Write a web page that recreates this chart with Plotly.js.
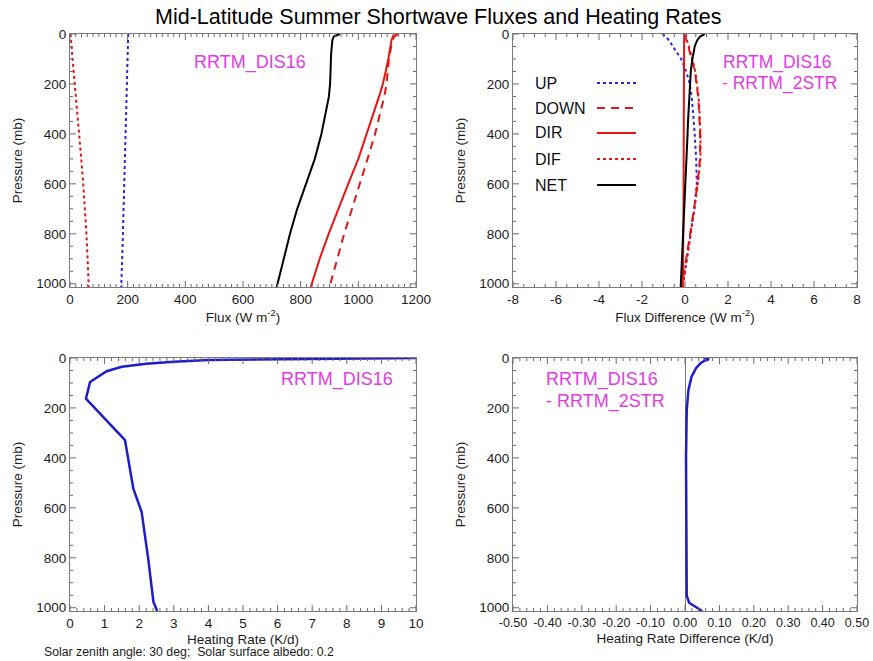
<!DOCTYPE html>
<html>
<head>
<meta charset="utf-8">
<script src="https://cdn.plot.ly/plotly-3.0.1.min.js"></script>
<style>
  html, body { margin: 0; padding: 0; background: #fff; }
  #chart { width: 873px; height: 661px; }
</style>
</head>
<body>
<div id="chart"></div>
<script>
// ---------- data ----------
const pressureFlux = [0, 10, 25, 50, 75, 100, 150, 200, 250, 300, 350, 400, 500, 600, 700, 800, 900, 1000, 1013];

// Panel 1: RRTM_DIS16 fluxes (W m-2)
const fluxUp   = [202, 201.5, 201, 200.5, 200, 199.5, 198.5, 197.5, 196.5, 195.5, 194.5, 193.5, 191, 188.5, 186, 183.5, 181, 178, 177.5];
const fluxDown = [1138, 1125, 1118, 1115, 1110, 1106, 1102, 1098, 1090, 1080, 1070, 1058, 1032, 1006, 978, 951, 926, 903, 900];
const fluxDir  = [1135, 1120, 1115, 1112, 1108, 1104, 1095, 1085, 1072, 1058, 1044, 1030, 1000, 965, 930, 897, 866, 838, 835];
const fluxDif  = [2, 3, 4, 6, 7, 9, 13, 17, 21, 25, 28, 32, 39, 46, 52, 57, 61, 64, 65];
const fluxNet  = [936, 915, 910, 907, 906, 905, 904, 902, 898, 890, 882, 872, 849, 818, 788, 763, 741, 720, 717];

// Panel 2: RRTM_DIS16 - RRTM_2STR flux differences (W m-2)
const diffUp   = [-1.05, -0.9, -0.75, -0.55, -0.35, -0.18, 0.06, 0.22, 0.31, 0.37, 0.41, 0.45, 0.52, 0.55, 0.43, 0.26, 0.09, -0.1, -0.13];
const diffDown = [0.0, 0.02, 0.06, 0.15, 0.24, 0.31, 0.46, 0.55, 0.61, 0.65, 0.68, 0.7, 0.7, 0.58, 0.42, 0.24, 0.04, -0.12, -0.15];
const diffDir  = [-0.04, -0.04, -0.04, -0.04, -0.05, -0.05, -0.05, -0.05, -0.05, -0.05, -0.06, -0.06, -0.06, -0.07, -0.07, -0.08, -0.08, -0.09, -0.1];
const diffDif  = [0.03, 0.05, 0.09, 0.18, 0.27, 0.34, 0.48, 0.57, 0.63, 0.67, 0.7, 0.72, 0.72, 0.6, 0.44, 0.27, 0.08, -0.07, -0.1];
const diffNet  = [0.92, 0.7, 0.57, 0.45, 0.4, 0.34, 0.27, 0.23, 0.2, 0.17, 0.14, 0.12, 0.07, 0.03, -0.02, -0.07, -0.11, -0.17, -0.2];

// Panel 3: heating rate (K/d)
const pressureHR = [0, 4, 8, 15, 23, 35, 53, 96, 163, 329, 523, 616, 803, 976, 1013];
const heatingRate = [10, 6, 4, 3, 2.2, 1.5, 1.06, 0.58, 0.46, 1.59, 1.83, 2.07, 2.26, 2.41, 2.52];

// Panel 4: heating rate difference (K/d)
const pressureHRD = [0, 4, 12, 21, 41, 75, 128, 208, 400, 600, 800, 900, 950, 980, 995, 1013];
const heatingRateDiff = [0.053, 0.07, 0.055, 0.045, 0.032, 0.019, 0.01, 0.005, 0.003, 0.003, 0.003, 0.003, 0.005, 0.012, 0.03, 0.05];

// tick labels
const pressureTicks = [0, 200, 400, 600, 800, 1000];
const fluxTicks = [0, 200, 400, 600, 800, 1000, 1200];
const fluxDiffTickVals = [-8, -6, -4, -2, 0, 2, 4, 6, 8];
const fluxDiffTickText = ['-8', '-6', '-4', '-2', '0', '2', '4', '6', '8'];
const hrTicks = [0, 1, 2, 3, 4, 5, 6, 7, 8, 9, 10];
const hrDiffTickVals = [-0.5, -0.4, -0.3, -0.2, -0.1, 0, 0.1, 0.2, 0.3, 0.4, 0.5];
const hrDiffTickText = ['-0.50', '-0.40', '-0.30', '-0.20', '-0.10', '0.00', '0.10', '0.20', '0.30', '0.40', '0.50'];

// legend entries (top-right panel)
const legendNames = ['UP', 'DOWN', 'DIR', 'DIF', 'NET'];

// ---------- styles ----------
const FONT = 'Liberation Sans, Arial, Helvetica, sans-serif';
const BLUE = 'rgb(40,40,225)';
const RED = 'rgb(230,20,20)';
const BLACK = '#000';
const MAGENTA = '#e23be2';
const FRAME = '#7a7a7a';
const TICK = '#6a6a6a';
const TXT = '#1c1c1c';
const HRBLUE = 'rgb(30,30,200)';
const styles = {
  UP:   {color: BLUE,  dash: 'dot',   width: 2},
  DOWN: {color: RED,   dash: '8px,6px', width: 2},
  DIR:  {color: RED,   dash: 'solid', width: 2},
  DIF:  {color: RED,   dash: 'dot',   width: 2},
  NET:  {color: BLACK, dash: 'solid', width: 2}
};

function tr(x, y, name, xa, ya, line) {
  return {x: x, y: y, name: name, type: 'scatter', mode: 'lines',
          xaxis: xa, yaxis: ya, line: line, showlegend: false, hoverinfo: 'skip'};
}

const traces = [
  tr(fluxUp,   pressureFlux, 'UP',   'x', 'y', styles.UP),
  tr(fluxDown, pressureFlux, 'DOWN', 'x', 'y', styles.DOWN),
  tr(fluxDir,  pressureFlux, 'DIR',  'x', 'y', styles.DIR),
  tr(fluxDif,  pressureFlux, 'DIF',  'x', 'y', styles.DIF),
  tr(fluxNet,  pressureFlux, 'NET',  'x', 'y', styles.NET),
  tr(diffUp,   pressureFlux, 'UP',   'x2', 'y2', styles.UP),
  tr(diffDown, pressureFlux, 'DOWN', 'x2', 'y2', styles.DOWN),
  tr(diffDir,  pressureFlux, 'DIR',  'x2', 'y2', styles.DIR),
  tr(diffDif,  pressureFlux, 'DIF',  'x2', 'y2', styles.DIF),
  tr(diffNet,  pressureFlux, 'NET',  'x2', 'y2', styles.NET),
  tr(heatingRate, pressureHR, 'Heating rate', 'x3', 'y3', {color: HRBLUE, width: 2.5}),
  tr(heatingRateDiff, pressureHRD, 'Heating rate difference', 'x4', 'y4', {color: HRBLUE, width: 2.5})
];

// ---------- geometry ----------
const W = 873, H = 661;
const px = v => v / W;
const py = v => 1 - v / H;
// plot-area frames in page pixels: [left, top, right, bottom]
const frames = {
  1: [70, 34, 416, 287],
  2: [513, 34, 857, 287],
  3: [70, 358, 416, 611],
  4: [513, 358, 857, 611]
};

function xAxis(frame, range, tickvals, ticktext, anchor, title, tickSize) {
  const a = {
    domain: [px(frame[0]), px(frame[2])], range: range, anchor: anchor,
    tickmode: 'array', tickvals: tickvals,
    showgrid: false, zeroline: false,
    showline: true, linecolor: FRAME, linewidth: 1, mirror: true,
    ticks: '',
    tickfont: {family: FONT, size: tickSize || 13.5, color: TXT},
    title: {text: title, font: {family: FONT, size: 13.5, color: TXT}, standoff: 4},
    fixedrange: true
  };
  if (ticktext) a.ticktext = ticktext;
  return a;
}
function yAxis(frame, anchor) {
  return {
    domain: [py(frame[3]), py(frame[1])], range: [1013, 0], anchor: anchor,
    tickmode: 'array', tickvals: pressureTicks,
    showgrid: false, zeroline: false,
    showline: true, linecolor: FRAME, linewidth: 1, mirror: true,
    ticks: '',
    tickfont: {family: FONT, size: 13.5, color: TXT},
    title: {text: 'Pressure (mb)', font: {family: FONT, size: 13.5, color: TXT}, standoff: 10},
    fixedrange: true
  };
}

// inward tick marks on all four frame sides (IDL style), built from the axis tick steps
function steps(lo, hi, step) {
  const out = [];
  const n = Math.round((hi - lo) / step);
  for (let i = 0; i <= n; i++) out.push(Math.round((lo + i * step) * 1e6) / 1e6);
  return out;
}
const MAJOR = 6, MINOR = 3;
function frameTicks(k, xRange, xMajor, xMinor, yMajor, yMinor) {
  const f = frames[k];
  const xa = k === 1 ? 'x' : 'x' + k;
  const ya = k === 1 ? 'y' : 'y' + k;
  const out = [];
  const isMajor = (v, st) => Math.abs(v / st - Math.round(v / st)) < 1e-6;
  steps(xRange[0], xRange[1], xMinor).forEach(v => {
    const len = isMajor(v, xMajor) ? MAJOR : MINOR;
    out.push({type: 'line', xref: xa, yref: 'paper', x0: v, x1: v, y0: py(f[3]), y1: py(f[3] - len)});
    out.push({type: 'line', xref: xa, yref: 'paper', x0: v, x1: v, y0: py(f[1]), y1: py(f[1] + len)});
  });
  steps(0, 1000, yMinor).forEach(v => {
    const len = isMajor(v, yMajor) ? MAJOR : MINOR;
    out.push({type: 'line', xref: 'paper', yref: ya, x0: px(f[0]), x1: px(f[0] + len), y0: v, y1: v});
    out.push({type: 'line', xref: 'paper', yref: ya, x0: px(f[2]), x1: px(f[2] - len), y0: v, y1: v});
  });
  return out.map(s => Object.assign(s, {layer: 'above', line: {color: TICK, width: 1}}));
}

const layout = {
  width: W, height: H,
  margin: {l: 0, r: 0, t: 0, b: 0},
  paper_bgcolor: '#fff', plot_bgcolor: '#fff',
  showlegend: false,
  font: {family: FONT, color: TXT},
  title: {text: 'Mid-Latitude Summer Shortwave Fluxes and Heating Rates',
          font: {family: FONT, size: 21.5, color: '#000'},
          x: 0.502, xanchor: 'center', y: py(16), yanchor: 'middle'},
  xaxis:  xAxis(frames[1], [0, 1200], fluxTicks, null, 'y', 'Flux (W m<sup>-2</sup>)'),
  yaxis:  yAxis(frames[1], 'x'),
  xaxis2: xAxis(frames[2], [-8, 8], fluxDiffTickVals, fluxDiffTickText, 'y2', 'Flux Difference (W m<sup>-2</sup>)'),
  yaxis2: yAxis(frames[2], 'x2'),
  xaxis3: xAxis(frames[3], [0, 10], hrTicks, null, 'y3', 'Heating Rate (K/d)'),
  yaxis3: yAxis(frames[3], 'x3'),
  xaxis4: Object.assign(xAxis(frames[4], [-0.5, 0.5], hrDiffTickVals, hrDiffTickText, 'y4',
                'Heating Rate Difference (K/d)', 12.5),
                {zeroline: true, zerolinecolor: '#7a7a7a', zerolinewidth: 1}),
  yaxis4: yAxis(frames[4], 'x4'),
  annotations: [],
  shapes: []
};

layout.shapes.push(...frameTicks(1, [0, 1200], 200, 20, 200, 50));
layout.shapes.push(...frameTicks(2, [-8, 8], 2, 0.5, 200, 50));
layout.shapes.push(...frameTicks(3, [0, 10], 1, 0.2, 200, 50));
layout.shapes.push(...frameTicks(4, [-0.5, 0.5], 0.1, 0.02, 200, 50));

function label(text, x, y, size, color) {
  return {text: text, xref: 'paper', yref: 'paper', x: px(x), y: py(y),
          xanchor: 'left', yanchor: 'middle', showarrow: false,
          font: {family: FONT, size: size, color: color}};
}
layout.annotations.push(label('RRTM_DIS16', 192, 62, 18, MAGENTA));
layout.annotations.push(label('RRTM_DIS16', 721, 62, 17.5, MAGENTA));
layout.annotations.push(label('- RRTM_2STR', 720, 83, 17.5, MAGENTA));
layout.annotations.push(label('RRTM_DIS16', 279, 380, 18, MAGENTA));
layout.annotations.push(label('RRTM_DIS16', 544, 380, 18, MAGENTA));
layout.annotations.push(label('- RRTM_2STR', 544, 401, 18, MAGENTA));

// legend inside the top-right panel: text on the left, line sample on the right
const legendRowY = [83, 108, 133, 159, 185];
legendNames.forEach((name, i) => {
  layout.annotations.push(label(name, 533, legendRowY[i], 16, '#111'));
  const st = styles[name];
  layout.shapes.push({type: 'line', xref: 'paper', yref: 'paper',
    x0: px(597), x1: px(636), y0: py(legendRowY[i]), y1: py(legendRowY[i]),
    line: {color: st.color, width: st.width, dash: st.dash}});
});

// footer
layout.annotations.push(label('Solar zenith angle: 30 deg;  Solar surface albedo: 0.2', 42, 652, 12.3, TXT));

Plotly.newPlot('chart', traces, layout, {staticPlot: true, displayModeBar: false});
</script>
</body>
</html>
